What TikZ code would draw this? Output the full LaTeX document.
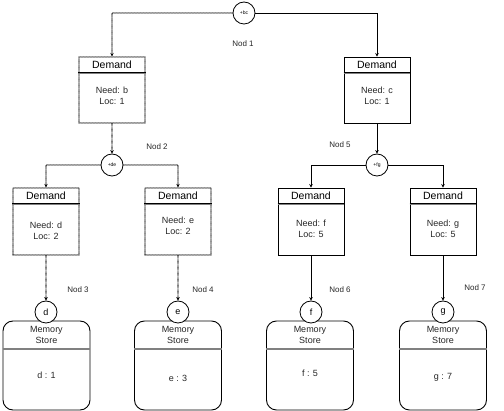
\documentclass[tikz,border=0pt]{standalone}
\usepackage{fontspec}
\setmainfont{Liberation Sans}
\usetikzlibrary{arrows.meta,calc}
\begin{document}
\begin{tikzpicture}[x=1pt,y=-1pt,
  dem/.style={draw, minimum width=66pt, minimum height=66pt, inner sep=0pt, line width=0.9pt},
  dotl/.style={dash pattern=on 0pt off 1.2pt, line cap=round, line width=1.1pt},
  circ/.style={circle, draw, minimum size=22pt, inner sep=0pt, fill=white, line width=0.8pt},
  conn/.style={-{Stealth[length=3.5pt,width=3.5pt]}, line width=0.9pt},
  lbl/.style={font=\fontsize{8}{9}\selectfont, text=black!85},
  ttl/.style={font=\fontsize{10.5}{12}\selectfont},
  body/.style={font=\fontsize{9}{11}\selectfont, align=center, text=black!85},
  tiny/.style={font=\fontsize{5}{6}\selectfont, text=black!60},
  mem/.style={draw, rounded corners=10pt, minimum width=87pt, minimum height=89pt, inner sep=0pt, line width=0.9pt}
]
\useasboundingbox (0,0) rectangle (504,411);

% Demand boxes
\node[dem, dotl] (b) at (112,90) {};
\node[dem] (c) at (377,90) {};
\node[dem, dotl, minimum height=67pt] (d) at (46,221.5) {};
\node[dem, dotl, minimum height=67pt] (e) at (178,221.5) {};
\node[dem, minimum height=67pt] (f) at (311,221.5) {};
\node[dem, minimum height=67pt] (g) at (443,221.5) {};

\foreach \n in {b,c,d,e,f,g}{
  \draw[line width=0.8pt] ($(\n.north west)+(0,16)$) -- ($(\n.north east)+(0,16)$);
  \draw[line width=1pt, gray] ($(\n.north west)+(0,17.2)$) -- ($(\n.north east)+(0,17.2)$);
  \node[ttl] (t\n) at ($(\n.north)+(0,8.5)$) {Demand};
}
\node[body] (bb) at ($(b.north)+(0,39.5)$) {Need: b\\Loc: 1};
\node[body] (bc) at ($(c.north)+(0,39.5)$) {Need: c\\Loc: 1};
\node[body] (bd) at ($(d.north)+(0,43)$) {Need: d\\Loc: 2};
\node[body] (be) at ($(e.north)+(0,38.5)$) {Need: e\\Loc: 2};
\node[body] (bf) at ($(f.north)+(0,41.5)$) {Need: f\\Loc: 5};
\node[body] (bg) at ($(g.north)+(0,41.5)$) {Need: g\\Loc: 5};

% Operator circles
\node[circ] (obc) at (244,13) {\tiny +bc};
\node[circ] (ode) at (112,165) {\tiny +de};
\node[circ] (ofg) at (377,165) {\tiny +fg};

% Memory stores
\node[mem] (md) at (46.5,365.5) {};
\node[mem] (me) at (178,365.5) {};
\node[mem] (mf) at (310,365.5) {};
\node[mem] (mg) at (443,365.5) {};
\foreach \n/\v/\o in {md/{d : 1}/55, me/{e : 3}/58, mf/{f : 5}/53, mg/{g : 7}/57}{
  \draw[line width=2pt, gray] ($(\n.north west)+(0,28)$) -- ($(\n.north east)+(0,28)$);
  \node[body] at ($(\n.north)+(0,14)$) {Memory\\Store};
  \node[body] at ($(\n.north)+(0,\o)$) {\v};
}

% Leaf circles
\node[circ, font=\fontsize{9}{10}\selectfont] (cd) at (46,312) {d};
\node[circ, font=\fontsize{9}{10}\selectfont] (ce) at (178,312) {e};
\node[circ, font=\fontsize{9}{10}\selectfont] (cf) at (311,312) {f};
\node[circ, font=\fontsize{9}{10}\selectfont] (cg) at (443,312) {g};

% Connectors
\draw[conn, dotl] (obc.west) -| (b.north);
\draw[conn] (obc.east) -| (c.north);
\draw[conn, dotl] (b.south) -- (ode.north);
\draw[conn] (c.south) -- (ofg.north);
\draw[conn, dotl] (ode.west) -| (d.north);
\draw[conn, dotl] (ode.east) -| (e.north);
\draw[conn] (ofg.west) -| (f.north);
\draw[conn] (ofg.east) -| (g.north);
\draw[conn, dotl] (d.south) -- (cd.north);
\draw[conn, dotl] (e.south) -- (ce.north);
\draw[conn] (f.south) -- (cf.north);
\draw[conn] (g.south) -- (cg.north);

% Labels
\node[lbl] (n1) at (243,44) {Nod 1};
\node[lbl] (n2) at (157,147) {Nod 2};
\node[lbl] (n5) at (340,145) {Nod 5};
\node[lbl] (n3) at (78,290) {Nod 3};
\node[lbl] (n4) at (203,290) {Nod 4};
\node[lbl] (n6) at (340,290) {Nod 6};
\node[lbl] (n7) at (475,288) {Nod 7};
\end{tikzpicture}
\end{document}
